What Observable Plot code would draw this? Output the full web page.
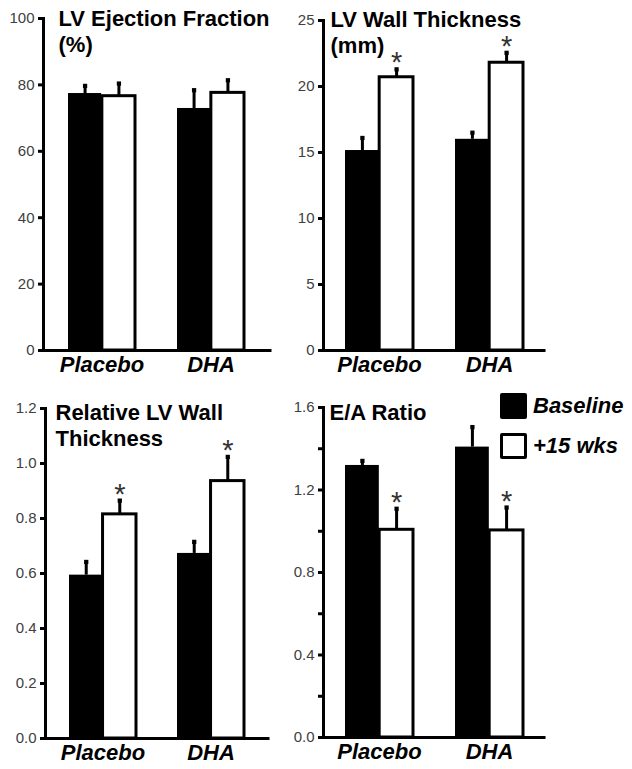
<!DOCTYPE html>
<html><head><meta charset="utf-8">
<script src="https://cdn.jsdelivr.net/npm/d3@7"></script>
<script src="https://cdn.jsdelivr.net/npm/@observablehq/plot@0.6"></script>
<style>
body{margin:0;background:#fff;font-family:"Liberation Sans",Arial,sans-serif;}
#root{position:relative;width:632px;height:769px;overflow:hidden;background:#fff;}
.panel{position:absolute;}
.panel svg{overflow:visible;}
.legend{position:absolute;left:500px;top:393px;}
.item{display:flex;align-items:center;height:26px;margin-bottom:14px;}
.sw{width:27px;height:26px;box-sizing:border-box;border:3px solid #000;border-radius:2px;margin-right:6px;}
.lab{font-weight:bold;font-style:italic;font-size:22px;color:#000;line-height:26px;}
</style></head><body><div id="root"></div>
<script>
// ---- data ----
const groups = ["Placebo", "DHA"];
const series = ["Baseline", "+15 wks"];
const seriesFill = ["black", "white"];

const efTitle = "LV Ejection Fraction\n(%)";
const efBaseline = [77.4, 72.9];
const efBaselineErr = [2.3, 5.5];
const ef15 = [76.6, 77.6];
const ef15Err = [3.8, 3.8];
const efSig = [false, false];
const efTicks = [0, 20, 40, 60, 80, 100];
const efTickLabels = ["0", "20", "40", "60", "80", "100"];

const wtTitle = "LV Wall Thickness\n(mm)";
const wtBaseline = [15.15, 16.0];
const wtBaselineErr = [0.95, 0.5];
const wt15 = [20.7, 21.8];
const wt15Err = [0.6, 0.75];
const wtSig = [true, true];
const wtTicks = [0, 5, 10, 15, 20, 25];
const wtTickLabels = ["0", "5", "10", "15", "20", "25"];

const rwTitle = "Relative LV Wall\nThickness";
const rwBaseline = [0.594, 0.673];
const rwBaselineErr = [0.048, 0.042];
const rw15 = [0.815, 0.936];
const rw15Err = [0.05, 0.088];
const rwSig = [true, true];
const rwTicks = [0, 0.2, 0.4, 0.6, 0.8, 1.0, 1.2];
const rwTickLabels = ["0.0", "0.2", "0.4", "0.6", "0.8", "1.0", "1.2"];

const eaTitle = "E/A Ratio";
const eaBaseline = [1.319, 1.408];
const eaBaselineErr = [0.022, 0.097];
const ea15 = [1.007, 1.004];
const ea15Err = [0.102, 0.111];
const eaSig = [true, true];
const eaTicks = [0, 0.2, 0.4, 0.6, 0.8, 1.0, 1.2, 1.4, 1.6];
const eaTickLabels = ["0.0", "", "0.4", "", "0.8", "", "1.2", "", "1.6"];

// ---- layout ----
const FONT = '"Liberation Sans", Arial, Helvetica, sans-serif';
const panels = [
  {title: efTitle, base: efBaseline, baseErr: efBaselineErr, post: ef15, postErr: ef15Err, sig: efSig, ticks: efTicks, labels: efTickLabels,
   left: 0, top: 0, width: 276, height: 384, ml: 43, mr: 6, mt: 18, mb: 34, po: 0.227, tdx: 15, tdy: -11},
  {title: wtTitle, base: wtBaseline, baseErr: wtBaselineErr, post: wt15, postErr: wt15Err, sig: wtSig, ticks: wtTicks, labels: wtTickLabels,
   left: 276, top: 0, width: 356, height: 384, ml: 47, mr: 88, mt: 20, mb: 34, po: 0.19, tdx: 7, tdy: -12},
  {title: rwTitle, base: rwBaseline, baseErr: rwBaselineErr, post: rw15, postErr: rw15Err, sig: rwSig, ticks: rwTicks, labels: rwTickLabels,
   left: 0, top: 384, width: 276, height: 385, ml: 45, mr: 8, mt: 24, mb: 31, po: 0.218, tdx: 10, tdy: -7},
  {title: eaTitle, base: eaBaseline, baseErr: eaBaselineErr, post: ea15, postErr: ea15Err, sig: eaSig, ticks: eaTicks, labels: eaTickLabels,
   left: 276, top: 384, width: 356, height: 385, ml: 47, mr: 88, mt: 23, mb: 32, po: 0.19, tdx: 6, tdy: -6}
];
const PI = 0.382;

const root = document.getElementById("root");

for (const p of panels) {
  const rows = groups.flatMap((g, i) => [
    {group: g, series: series[0], value: p.base[i], err: p.baseErr[i], sig: false, k: 0},
    {group: g, series: series[1], value: p.post[i], err: p.postErr[i], sig: p.sig[i], k: 1}
  ]);
  const L = p.width - p.ml - p.mr;
  const step = L / (groups.length - PI + 2 * p.po);
  const bw = step * (1 - PI);
  const half = bw / 2;
  const labelMap = new Map(p.ticks.map((t, i) => [t, p.labels[i]]));
  const yMax = p.ticks[p.ticks.length - 1];

  const marks = [];
  series.forEach((s, k) => {
    const data = rows.filter(d => d.k === k);
    const off = k === 0 ? -half / 2 : half / 2;
    marks.push(Plot.barY(data, {
      x: "group", y: "value", fill: seriesFill[k],
      stroke: k === 1 ? "black" : null, strokeWidth: 3,
      insetRight: k === 0 ? half : 0, insetLeft: k === 1 ? half : 0
    }));
    marks.push(Plot.ruleX(data, {x: "group", y1: "value", y2: d => d.value + d.err, dx: off, stroke: "black", strokeWidth: 3}));
    marks.push(Plot.dot(data, {x: "group", y: d => d.value + d.err, dx: off, symbol: "square", r: 2.4, fill: "black"}));
    marks.push(Plot.text(data.filter(d => d.sig), {x: "group", y: d => d.value + d.err, text: () => "*", dx: off, dy: 3, lineAnchor: "bottom", fontSize: 29, fill: "#333"}));
  });
  marks.push(Plot.ruleY([0], {stroke: "black", strokeWidth: 3, strokeLinecap: "square"}));
  marks.push(Plot.frame({anchor: "left", stroke: "black", strokeWidth: 3, strokeLinecap: "square"}));
  marks.push(Plot.axisY({ticks: p.ticks, tickFormat: d => labelMap.get(d) ?? "", tickSize: 5, tickPadding: 4, strokeWidth: 3, stroke: "black", fill: "#404040", fontSize: 15, label: null}));
  marks.push(Plot.axisX({tickSize: 0, tickPadding: 6, fontSize: 22, fontWeight: "bold", fontStyle: "italic", fill: "black", label: null}));
  marks.push(Plot.text([p.title], {frameAnchor: "top-left", text: d => d, dx: p.tdx, dy: p.tdy, textAnchor: "start", lineAnchor: "top", lineHeight: 1.18, fontSize: 22, fontWeight: "bold", fill: "black"}));

  const chart = Plot.plot({
    width: p.width, height: p.height,
    marginLeft: p.ml, marginRight: p.mr, marginTop: p.mt, marginBottom: p.mb,
    x: {domain: groups, paddingInner: PI, paddingOuter: p.po, label: null},
    y: {domain: [0, yMax], label: null},
    style: {fontFamily: FONT, background: "transparent", overflow: "visible"},
    marks
  });
  const div = document.createElement("div");
  div.className = "panel";
  div.style.left = p.left + "px";
  div.style.top = p.top + "px";
  div.style.width = p.width + "px";
  div.style.height = p.height + "px";
  div.appendChild(chart);
  root.appendChild(div);
}

// legend
const leg = document.createElement("div");
leg.className = "legend";
series.forEach((s, k) => {
  const item = document.createElement("div");
  item.className = "item";
  const sw = document.createElement("div");
  sw.className = "sw";
  sw.style.background = seriesFill[k];
  const lab = document.createElement("span");
  lab.className = "lab";
  lab.textContent = s;
  item.appendChild(sw);
  item.appendChild(lab);
  leg.appendChild(item);
});
root.appendChild(leg);
</script>
</body></html>
